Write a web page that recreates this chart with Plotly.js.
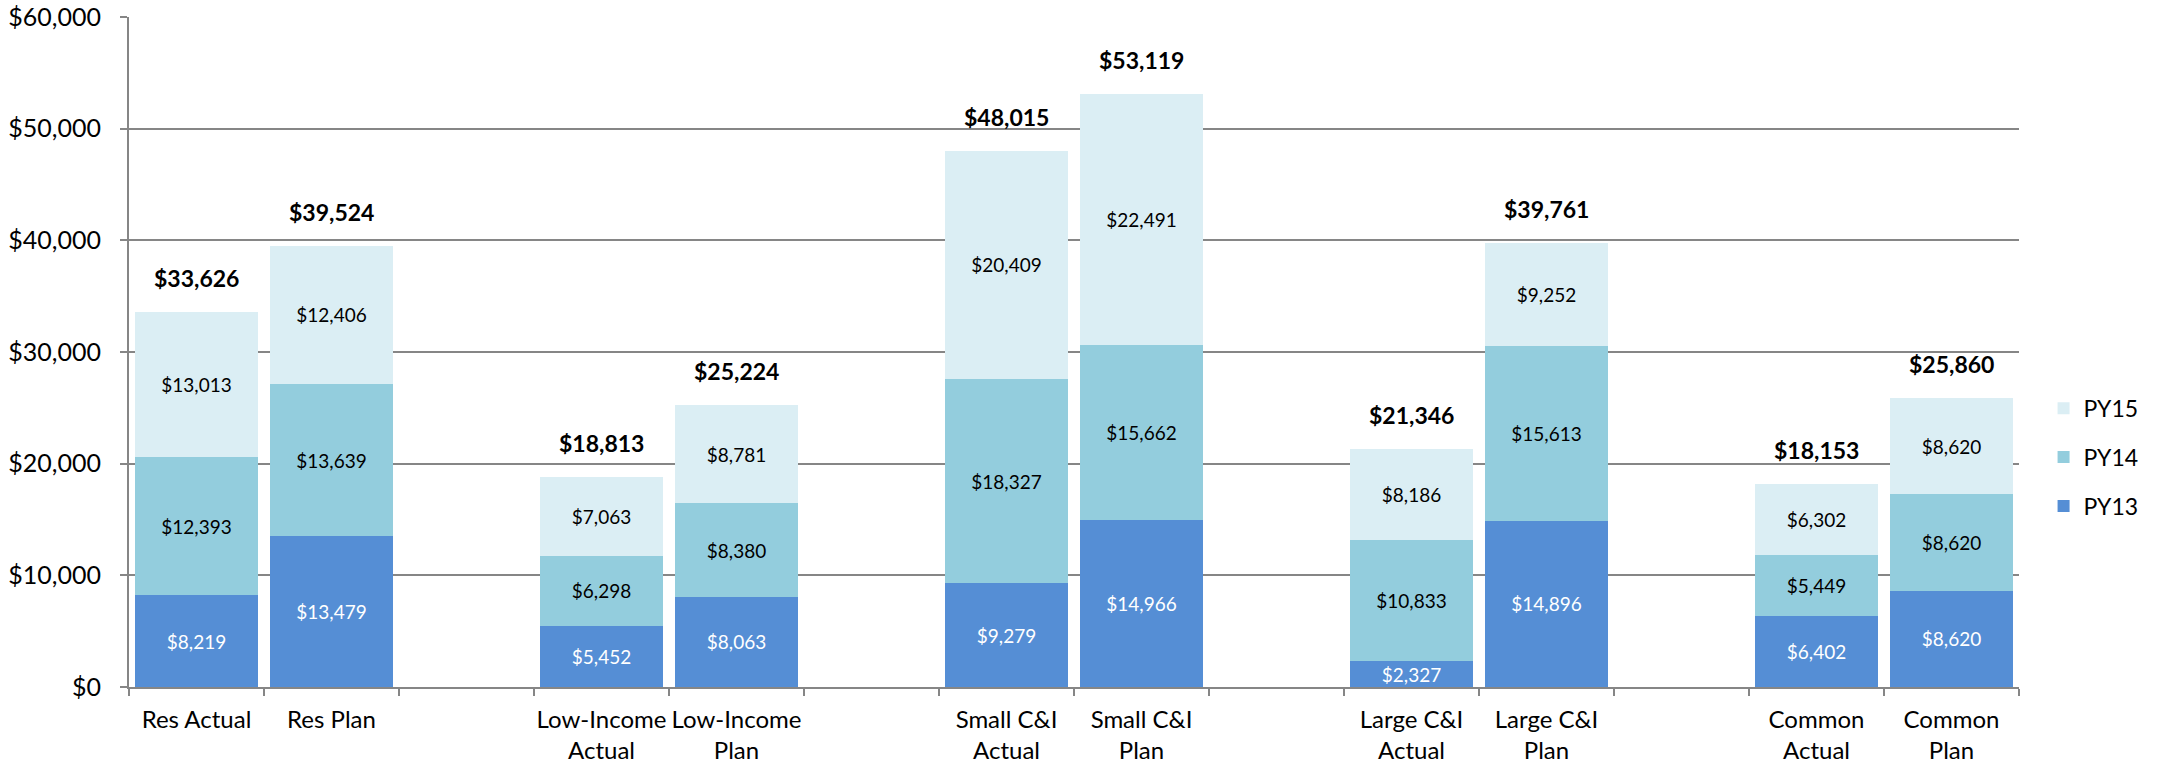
<!DOCTYPE html>
<html>
<head>
<meta charset="utf-8">
<script src="https://cdn.plot.ly/plotly-3.0.1.min.js"></script>
<style>html,body{margin:0;padding:0;background:#fff;}#chart{width:2162px;height:767px;}</style>
</head>
<body>
<div id="chart"></div>
<script>
// Categories (bars) and the axis slot order (blank slots separate the groups)
var categories = ["Res Actual", "Res Plan", "Low-Income<br>Actual", "Low-Income<br>Plan",
  "Small C&I<br>Actual", "Small C&I<br>Plan", "Large C&I<br>Actual", "Large C&I<br>Plan",
  "Common<br>Actual", "Common<br>Plan"];
var axisSlots = ["Res Actual", "Res Plan", " ", "Low-Income<br>Actual", "Low-Income<br>Plan", "  ",
  "Small C&I<br>Actual", "Small C&I<br>Plan", "   ", "Large C&I<br>Actual", "Large C&I<br>Plan", "    ",
  "Common<br>Actual", "Common<br>Plan"];

var py13 = [8219, 13479, 5452, 8063, 9279, 14966, 2327, 14896, 6402, 8620];
var py14 = [12393, 13639, 6298, 8380, 18327, 15662, 10833, 15613, 5449, 8620];
var py15 = [13013, 12406, 7063, 8781, 20409, 22491, 8186, 9252, 6302, 8620];
var totals = [33626, 39524, 18813, 25224, 48015, 53119, 21346, 39761, 18153, 25860];

var seriesNames = ["PY13", "PY14", "PY15"];
var yTicks = [0, 10000, 20000, 30000, 40000, 50000, 60000];

var FONT = "Lato, 'Open Sans', sans-serif";
function money(v) { return "$" + v.toLocaleString("en-US"); }

function barTrace(name, vals, color, textColor, rank) {
  return {
    type: "bar", name: name, x: categories, y: vals,
    text: vals.map(money), textposition: "inside", insidetextanchor: "middle",
    constraintext: "none", textangle: 0,
    textfont: {family: FONT, size: 19, color: textColor},
    marker: {color: color, line: {width: 0}},
    legendgroup: name, legendrank: rank, hoverinfo: "x+y"
  };
}

var data = [
  barTrace(seriesNames[0], py13, "#558ED5", "#FFFFFF", 3),
  barTrace(seriesNames[1], py14, "#93CDDD", "#000000", 2),
  barTrace(seriesNames[2], py15, "#DBEEF4", "#000000", 1)
];

var annotations = categories.map(function (c, i) {
  return {x: c, y: totals[i], xref: "x", yref: "y", text: "<b>" + money(totals[i]) + "</b>",
    showarrow: false, yanchor: "middle", yshift: 34,
    font: {family: FONT, size: 23, color: "#000"}};
});

var layout = {
  width: 2162, height: 767,
  margin: {l: 129, r: 143, t: 17, b: 80, pad: 0},
  paper_bgcolor: "#fff", plot_bgcolor: "#fff",
  barmode: "stack", bargap: 0.095,
  font: {family: FONT, size: 24, color: "#000"},
  xaxis: {
    type: "category", categoryorder: "array", categoryarray: axisSlots,
    range: [-0.5, 13.5], tickangle: 0,
    showline: true, linecolor: "#868686", linewidth: 2,
    ticks: "outside", tickson: "boundaries", ticklen: 7, tickwidth: 2, tickcolor: "#868686",
    showgrid: false, zeroline: false, ticklabelstandoff: 10,
    tickfont: {family: FONT, size: 24, color: "#000"}
  },
  yaxis: {
    range: [0, 60000], tickvals: yTicks, ticktext: yTicks.map(money),
    showline: true, linecolor: "#868686", linewidth: 2,
    ticks: "outside", ticklen: 7, tickwidth: 2, tickcolor: "#868686",
    showgrid: true, gridcolor: "#868686", gridwidth: 2, zeroline: false,
    ticklabelstandoff: 14,
    tickfont: {family: FONT, size: 25, color: "#000"}
  },
  legend: {
    x: 1.013, xanchor: "left", y: 0.343, yanchor: "middle",
    traceorder: "grouped", tracegroupgap: 16,
    font: {family: FONT, size: 23, color: "#000"},
    bgcolor: "rgba(0,0,0,0)", borderwidth: 0
  },
  annotations: annotations,
  showlegend: true
};

Plotly.newPlot("chart", data, layout, {displayModeBar: false, staticPlot: true});
</script>
</body>
</html>
